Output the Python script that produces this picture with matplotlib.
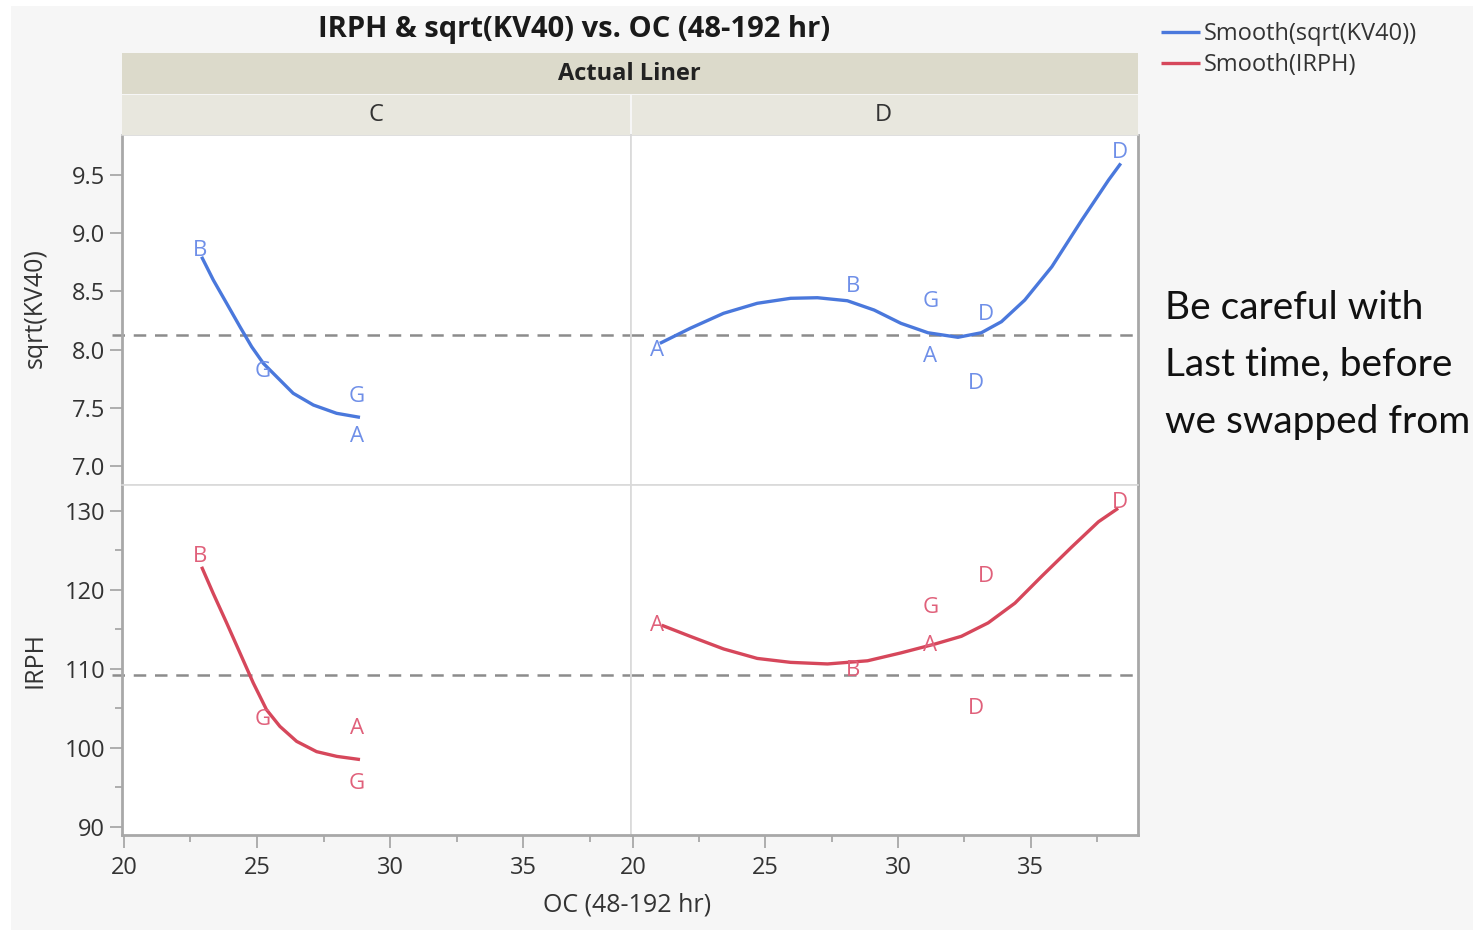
import matplotlib
matplotlib.use('Agg')
import matplotlib.pyplot as plt
from matplotlib.patches import Rectangle
from matplotlib.ticker import MultipleLocator

plt.rcParams['font.family'] = ['Open Sans', 'DejaVu Sans']

# data points (letter = Lot)
lbl_C = ['B', 'G', 'G', 'A']
oc_C = [22.86, 25.23, 28.76, 28.76]
kv_C = [8.85, 7.81, 7.60, 7.25]
irph_C = [124.2, 103.6, 95.5, 102.4]

lbl_D = ['A', 'B', 'A', 'G', 'D', 'D', 'D']
oc_D = [20.9, 28.3, 31.2, 31.25, 33.3, 32.95, 38.37]
kv_D = [7.99, 8.54, 7.94, 8.41, 8.30, 7.71, 9.69]
irph_D = [115.5, 109.8, 112.9, 117.7, 121.7, 105.0, 131.0]

# smoother curves
sm_kv_C_x = [22.92, 23.36, 23.86, 24.36, 24.80, 25.24, 25.74, 26.36, 27.12, 27.99, 28.87]
sm_kv_C_y = [8.798, 8.598, 8.398, 8.197, 8.025, 7.882, 7.767, 7.625, 7.524, 7.453, 7.418]
sm_irph_C_x = [22.92, 23.36, 23.86, 24.36, 24.86, 25.36, 25.86, 26.49, 27.24, 28.00, 28.87]
sm_irph_C_y = [122.9, 119.5, 115.8, 112.0, 108.2, 104.8, 102.7, 100.8, 99.5, 98.9, 98.5]
sm_kv_D_x = [21.02, 22.16, 23.42, 24.69, 25.95, 26.96, 28.09, 29.10, 30.11, 31.13,
             32.26, 33.14, 33.90, 34.78, 35.80, 36.93, 37.94, 38.40]
sm_kv_D_y = [8.054, 8.183, 8.312, 8.398, 8.441, 8.446, 8.420, 8.340, 8.226, 8.145,
             8.106, 8.145, 8.240, 8.426, 8.712, 9.113, 9.457, 9.600]
sm_irph_D_x = [21.09, 22.16, 23.42, 24.69, 25.95, 27.34, 28.85, 30.11, 31.37, 32.39,
               33.40, 34.41, 35.42, 36.55, 37.56, 38.30]
sm_irph_D_y = [115.5, 114.1, 112.5, 111.3, 110.8, 110.6, 111.0, 112.0, 113.1, 114.1,
               115.8, 118.3, 121.7, 125.4, 128.6, 130.3]

kv_mean = 8.125
irph_mean = 109.2

blue = '#4a78dc'
blue_txt = '#6f8fe8'
red = '#d6475b'
red_txt = '#e0607a'
spine_c = '#a8a8a8'
div_c = '#d9d9d9'
txt_c = '#333333'

W, H = 1473, 930
fig = plt.figure(figsize=(W / 100, H / 100), dpi=100, facecolor='white')
fig.patches.append(Rectangle((11 / W, 0), 1, 1 - 6 / H, transform=fig.transFigure,
                             facecolor='#f6f6f6', edgecolor='none', zorder=-10))

def fx(px):
    return px / W

def fy(py):
    return 1 - py / H

xl, xr = 122, 631
xr2 = 1138
ytop, ymid, ybot = 135, 485, 835

ax_tc = fig.add_axes([fx(xl), fy(ymid), fx(xr - xl), fy(ytop) - fy(ymid)])
ax_td = fig.add_axes([fx(xr), fy(ymid), fx(xr2 - xr), fy(ytop) - fy(ymid)])
ax_bc = fig.add_axes([fx(xl), fy(ybot), fx(xr - xl), fy(ymid) - fy(ybot)])
ax_bd = fig.add_axes([fx(xr), fy(ybot), fx(xr2 - xr), fy(ymid) - fy(ybot)])

panels = [
    (ax_tc, oc_C, kv_C, lbl_C, sm_kv_C_x, sm_kv_C_y, blue, blue_txt, kv_mean),
    (ax_td, oc_D, kv_D, lbl_D, sm_kv_D_x, sm_kv_D_y, blue, blue_txt, kv_mean),
    (ax_bc, oc_C, irph_C, lbl_C, sm_irph_C_x, sm_irph_C_y, red, red_txt, irph_mean),
    (ax_bd, oc_D, irph_D, lbl_D, sm_irph_D_x, sm_irph_D_y, red, red_txt, irph_mean),
]

lines = []
for ax, xs, ys, lbls, sx, sy, c, ct, m in panels:
    ax.set_facecolor('white')
    left_panel = ax in (ax_tc, ax_bc)
    ax.axhline(m, xmin=(-0.02 if left_panel else 0), color='#8c8c8c', lw=1.8,
               ls=(0, (5, 3.5)), zorder=1, clip_on=False)
    ln, = ax.plot(sx, sy, color=c, lw=2.4, zorder=2, solid_capstyle='butt',
                  solid_joinstyle='round')
    lines.append(ln)
    for x, y, t in zip(xs, ys, lbls):
        ax.text(x, y, t, color=ct, fontsize=16, ha='center', va='center', zorder=3)
    ax.set_xlim(19.93, 39.05)
    for s in ax.spines.values():
        s.set_color(div_c)
        s.set_linewidth(1.2)

for ax in (ax_tc, ax_td):
    ax.set_ylim(6.837, 9.844)
for ax in (ax_bc, ax_bd):
    ax.set_ylim(88.95, 133.25)

for ax in (ax_tc, ax_bc):
    ax.spines['left'].set_color(spine_c)
    ax.spines['left'].set_linewidth(2)
for ax in (ax_bc, ax_bd):
    ax.spines['bottom'].set_color(spine_c)
    ax.spines['bottom'].set_linewidth(2)
for ax in (ax_td, ax_bd):
    ax.spines['right'].set_color(spine_c)
    ax.spines['right'].set_linewidth(2)

ax_tc.set_yticks([7.0, 7.5, 8.0, 8.5, 9.0, 9.5])
ax_tc.set_yticklabels(['7.0', '7.5', '8.0', '8.5', '9.0', '9.5'])
ax_bc.set_yticks([90, 100, 110, 120, 130])
ax_bc.yaxis.set_minor_locator(MultipleLocator(5))

for ax in (ax_bc, ax_bd):
    ax.set_xticks([20, 25, 30, 35])
    ax.xaxis.set_minor_locator(MultipleLocator(2.5))

for ax in (ax_tc, ax_td, ax_bc, ax_bd):
    ax.tick_params(which='major', length=9, width=1.3, color=spine_c,
                   labelsize=17, labelcolor=txt_c, pad=3)
    ax.tick_params(which='minor', length=5, width=1.3, color=spine_c)
    ax.tick_params(axis='x', which='both', bottom=(ax in (ax_bc, ax_bd)),
                   labelbottom=(ax in (ax_bc, ax_bd)))
    ax.tick_params(axis='y', which='both', left=(ax in (ax_tc, ax_bc)),
                   labelleft=(ax in (ax_tc, ax_bc)))
    ax.tick_params(axis='x', which='major', pad=6)

# strip headers
fig.patches.append(Rectangle((fx(xl), fy(94)), fx(xr2 - xl), fy(53) - fy(94),
                             transform=fig.transFigure, facecolor='#dcdacb',
                             edgecolor='none'))
fig.patches.append(Rectangle((fx(xl), fy(ytop)), fx(xr - xl - 1), fy(95) - fy(ytop),
                             transform=fig.transFigure, facecolor='#e8e7de',
                             edgecolor='none'))
fig.patches.append(Rectangle((fx(xr + 1), fy(ytop)), fx(xr2 - xr - 1), fy(95) - fy(ytop),
                             transform=fig.transFigure, facecolor='#e8e7de',
                             edgecolor='none'))
fig.text(fx(629), fy(74), 'Actual Liner', ha='center', va='center',
         fontsize=17, fontweight='bold', color='#222222')
fig.text(fx(376), fy(115), 'C', ha='center', va='center', fontsize=17, color=txt_c)
fig.text(fx(883), fy(115), 'D', ha='center', va='center', fontsize=17, color=txt_c)

fig.text(fx(574), fy(30), 'IRPH & sqrt(KV40) vs. OC (48-192 hr)', ha='center',
         va='center', fontsize=21, fontweight='bold', color='#1a1a1a')

fig.text(fx(35), fy(308), 'sqrt(KV40)', rotation=90, ha='center', va='center',
         fontsize=18, color=txt_c)
fig.text(fx(35), fy(660), 'IRPH', rotation=90, ha='center', va='center',
         fontsize=18, color=txt_c)
fig.text(fx(627), fy(905), 'OC (48-192 hr)', ha='center', va='center',
         fontsize=18, color=txt_c)

fig.legend([lines[0], lines[2]], ['Smooth(sqrt(KV40))', 'Smooth(IRPH)'],
           loc='upper left', bbox_to_anchor=(fx(1140), fy(1)), frameon=False,
           fontsize=17, handlelength=1.65, handletextpad=0.15, labelspacing=0.3,
           labelcolor=txt_c)

for i, s in enumerate(['Be careful with', 'Last time, before', 'we swapped from']):
    fig.text(fx(1165), fy(308 + 57 * i), s, ha='left', va='center',
             fontsize=28, color='#111111', family=['Lato', 'DejaVu Sans'])

fig.savefig('out.png', dpi=100, facecolor=fig.get_facecolor())
